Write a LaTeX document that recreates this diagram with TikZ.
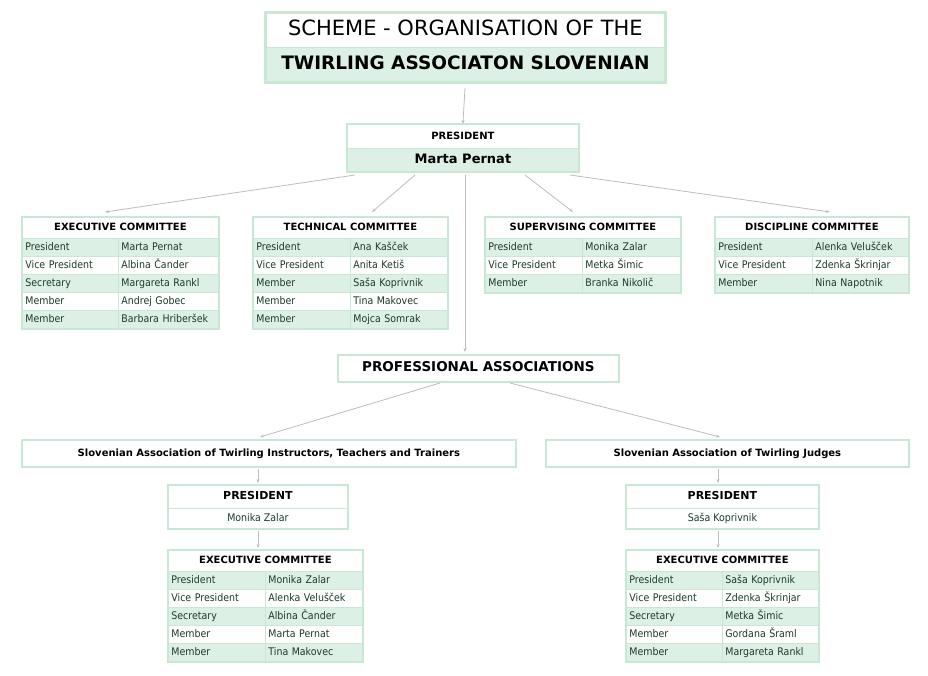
\documentclass[tikz,border=0pt]{standalone}
\usepackage{fontspec}
\setmainfont{DejaVu Sans}
\newfontfamily\cellfont{DejaVu Sans}[FakeStretch=0.9]
\usetikzlibrary{arrows.meta}
\definecolor{bord}{HTML}{C9E7D5}
\definecolor{gfill}{HTML}{DDF0E5}
\definecolor{lnc}{HTML}{BDBDBD}
\definecolor{txtg}{HTML}{1E3A2A}
\tikzset{
 cell/.style={draw=bord, line width=0.8pt, inner sep=0pt, anchor=north west, font=\cellfont\fontsize{10.5}{11}\selectfont, text=txtg, text height=7.8pt, text depth=2.2pt},
 hdr/.style={cell, font=\fontsize{10}{11}\selectfont\bfseries, text=black, fill=white},
 frame/.style={draw=bord, line width=2.2pt},
 conn/.style={draw=lnc, line width=0.8pt, -{Stealth[length=4pt,width=3pt]}},
}
\newcommand\ctab[7]{%
 \node[hdr, minimum width=#3pt, minimum height=21pt] (#1) at (#2,#5) {#6};
 \pgfmathsetmacro\cwl{#4-6}
 \pgfmathsetmacro\cwr{#3-#4-6}
 \pgfmathsetmacro\mwr{#3-#4}
 \foreach [count=\i] \a/\b in {#7} {
  \ifodd\i\relax\def\rf{gfill}\else\def\rf{white}\fi
  \pgfmathsetmacro\yy{#5+21+(\i-1)*18}
  \pgfmathsetmacro\xr{#2+#4}
  \node[cell, fill=\rf, minimum width=#4pt, minimum height=18pt, text width=\cwl pt, align=left, inner xsep=3pt] (#1-\i-l) at (#2,\yy) {\a};
  \node[cell, fill=\rf, minimum width=\mwr pt, minimum height=18pt, text width=\cwr pt, align=left, inner xsep=3pt] (#1-\i-r) at (\xr,\yy) {\b};
  \xdef\lastrow{\i}
 }
 \draw[frame] (#1.north west) rectangle (#1-\lastrow-r.south east);
}
\begin{document}
\begin{tikzpicture}[x=1pt,y=-1pt]
\useasboundingbox[fill=white] (0,0) rectangle (928,675);
% title
\node[cell, fill=white, minimum width=400pt, minimum height=35pt, font=\fontsize{21}{24}\selectfont, text=black, text height=15pt, text depth=4pt] (t1) at (265,12) {SCHEME - ORGANISATION OF THE};
\node[cell, fill=gfill, minimum width=400pt, minimum height=35pt, font=\fontsize{18.5}{21}\selectfont\bfseries, text=black, text height=14pt, text depth=4pt] (t2) at (265,47) {TWIRLING ASSOCIATON SLOVENIAN};
\draw[frame, line width=3pt] (t1.north west) rectangle (t2.south east);
% president
\node[hdr, minimum width=231pt, minimum height=24pt] (p1) at (347,124) {PRESIDENT};
\node[cell, fill=gfill, minimum width=231pt, minimum height=23pt, font=\fontsize{13}{14}\selectfont\bfseries, text=black, text height=10pt, text depth=3pt] (p2) at (347,148) {Marta Pernat};
\draw[frame] (p1.north west) rectangle (p2.south east);
\coordinate (ta) at (465,88);
\draw[conn] (ta) -- (p1.north);
% committees
\ctab{ec}{22}{196}{96}{217}{EXECUTIVE COMMITTEE}{President/Marta Pernat, Vice President/Albina Čander, Secretary/Margareta Rankl, Member/Andrej Gobec, Member/Barbara Hriberšek}
\ctab{tc}{253}{194}{97}{217}{TECHNICAL COMMITTEE}{President/Ana Kašček, Vice President/Anita Ketiš, Member/Saša Koprivnik, Member/Tina Makovec, Member/Mojca Somrak}
\ctab{sc}{485}{195}{97}{217}{SUPERVISING COMMITTEE}{President/Monika Zalar, Vice President/Metka Šimic, Member/Branka Nikolič}
\ctab{dc}{715}{193}{97}{217}{DISCIPLINE COMMITTEE}{President/Alenka Velušček, Vice President/Zdenka Škrinjar, Member/Nina Napotnik}
% professional
\node[hdr, minimum width=280pt, minimum height=26pt, font=\fontsize{13.5}{15}\selectfont\bfseries, text height=10pt, text depth=3pt] (pa) at (338,355) {PROFESSIONAL ASSOCIATIONS};
\draw[frame] (pa.north west) rectangle (pa.south east);
\coordinate (q1) at (355,175); \coordinate (q2) at (415,175);
\coordinate (q3) at (525,175); \coordinate (q4) at (570,175);
\coordinate (e1) at (105,212); \coordinate (e2) at (372,212);
\coordinate (e3) at (573,212); \coordinate (e4) at (830,212);
\draw[conn] (q1) -- (e1);
\draw[conn] (q2) -- (e2);
\draw[conn] (q3) -- (e3);
\draw[conn] (q4) -- (e4);
\coordinate (pc) at (465,175); \coordinate (pe) at (465,352);
\draw[conn] (pc) -- (pe);
% associations
\node[hdr, minimum width=493pt, minimum height=26pt] (la) at (22,440) {Slovenian Association of Twirling Instructors, Teachers and Trainers};
\draw[frame] (la.north west) rectangle (la.south east);
\node[hdr, minimum width=362pt, minimum height=26pt] (ra) at (546,440) {Slovenian Association of Twirling Judges};
\draw[frame] (ra.north west) rectangle (ra.south east);
\coordinate (pl) at (440,383); \coordinate (pr) at (510,383);
\coordinate (el) at (260,437); \coordinate (er) at (720,437);
\draw[conn] (pl) -- (el);
\draw[conn] (pr) -- (er);
% left side
\node[hdr, minimum width=179pt, minimum height=23pt, font=\fontsize{11}{12}\selectfont\bfseries] (lp1) at (168,485) {PRESIDENT};
\node[cell, fill=white, minimum width=179pt, minimum height=20pt] (lp2) at (168,508) {Monika Zalar};
\draw[frame] (lp1.north west) rectangle (lp2.south east);
\coordinate (la3) at (258,469); \coordinate (la4) at (258,483);
\draw[conn] (la3) -- (la4);
\ctab{lec}{168}{194}{97}{550}{EXECUTIVE COMMITTEE}{President/Monika Zalar, Vice President/Alenka Velušček, Secretary/Albina Čander, Member/Marta Pernat, Member/Tina Makovec}
\coordinate (lp3) at (258,531); \coordinate (lp4) at (258,548);
\draw[conn] (lp3) -- (lp4);
% right side
\node[hdr, minimum width=192pt, minimum height=23pt, font=\fontsize{11}{12}\selectfont\bfseries] (rp1) at (626,485) {PRESIDENT};
\node[cell, fill=white, minimum width=192pt, minimum height=20pt] (rp2) at (626,508) {Saša Koprivnik};
\draw[frame] (rp1.north west) rectangle (rp2.south east);
\coordinate (ra3) at (718,469); \coordinate (ra4) at (718,483);
\draw[conn] (ra3) -- (ra4);
\ctab{rec}{626}{192}{96}{550}{EXECUTIVE COMMITTEE}{President/Saša Koprivnik, Vice President/Zdenka Škrinjar, Secretary/Metka Šimic, Member/Gordana Šraml, Member/Margareta Rankl}
\coordinate (rp3) at (718,531); \coordinate (rp4) at (718,548);
\draw[conn] (rp3) -- (rp4);
\end{tikzpicture}
\end{document}
